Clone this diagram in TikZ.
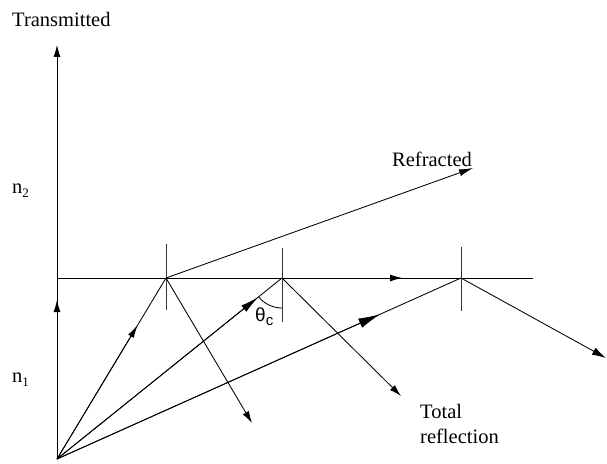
\documentclass[tikz,border=0pt]{standalone}
\usepackage{fontspec}
\setmainfont{Liberation Serif}
\newfontfamily\sansf{Liberation Sans}
\usetikzlibrary{arrows.meta,calc}
\tikzset{
  ray/.style={line width=0.85pt, black},
  normalln/.style={line width=0.8pt, black!80},
  lbl/.style={inner sep=0pt, font=\fontsize{20.5}{24}\selectfont},
  >={Latex[length=12pt,width=7pt]},
  bigtip/.style={-{Latex[length=22pt,width=10pt]}}
}
\begin{document}
\begin{tikzpicture}[x=1pt,y=1pt]
\useasboundingbox (0,0) rectangle (607,463);
% key points
\coordinate (S) at (57,4);
\coordinate (T) at (57,418);
\coordinate (I0) at (57,185);
\coordinate (I1) at (533,185);
\coordinate (P1) at (166,185);
\coordinate (P2) at (282,185);
\coordinate (P3) at (461,185);
\coordinate (R) at (473,295);
\coordinate (E1) at (252,40);
\coordinate (E2) at (401,67);
\coordinate (E3) at (606,105);
% normals
\draw[normalln] (166,219) -- (166,153);
\draw[normalln] (282,215) -- (282,141);
\draw[normalln] (461,216) -- (461,152);
% interface
\draw[ray,->] (I0) -- ($(I0)!0.725!(I1)$);
\draw[ray] (I0) -- (I1);
% vertical transmitted
\draw[ray,->] (S) -- ($(S)!0.384!(T)$);
\draw[ray,->] (S) -- (T);
% ray to P1
\draw[ray,-{Latex[length=13pt,width=6.5pt]}] (S) -- ($(S)!0.74!(P1)$);
\draw[ray] (S) -- (P1);
\draw[ray,-{Latex[length=14pt,width=7pt]}] (P1) -- (R);
\draw[ray,->] (P1) -- (E1);
% ray to P2
\draw[ray,-{Latex[length=18pt,width=8pt]}] (S) -- ($(S)!0.893!(P2)$);
\draw[ray] (S) -- (P2);
\draw[ray,->] (P2) -- (E2);
\draw[ray] ([shift={(218.8:30)}]P2) arc[start angle=218.8,end angle=270,radius=30];
% ray to P3
\draw[ray,bigtip] (S) -- ($(S)!0.8!(P3)$);
\draw[ray] (S) -- (P3);
\draw[ray,-{Latex[length=14pt,width=8pt]}] (P3) -- (E3);
% labels
\node[lbl,anchor=base west] (trans) at (12,436) {Transmitted};
\node[lbl,anchor=base west] (refr) at (392,296) {Refracted};
\node[lbl,anchor=base west] (n2) at (12,269) {n\raisebox{-4pt}{\fontsize{13}{13}\selectfont 2}};
\node[lbl,anchor=base west] (n1) at (12,81) {n\raisebox{-4pt}{\fontsize{13}{13}\selectfont 1}};
\node[inner sep=0pt,anchor=base west,font=\sansf\fontsize{19}{22}\selectfont] (theta) at (255,141) {θ\raisebox{-4pt}{\fontsize{15}{15}\selectfont c}};
\node[lbl,anchor=base west] (tot1) at (420,45) {Total};
\node[lbl,anchor=base west] (tot2) at (420,20) {reflection};
\end{tikzpicture}
\end{document}
